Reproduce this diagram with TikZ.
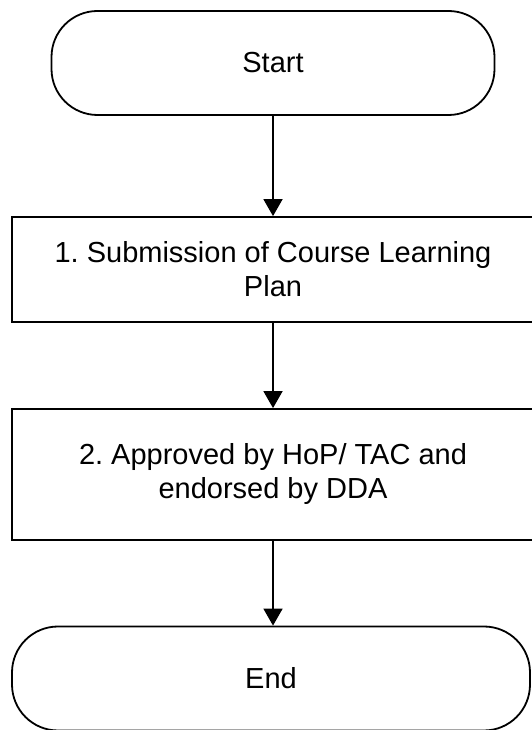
\documentclass[tikz,border=0pt]{standalone}
\usepackage{fontspec}
\setmainfont{Liberation Sans}
\usepackage{tikz}
\usetikzlibrary{arrows.meta}
\frenchspacing

\begin{document}
\begin{tikzpicture}[x=1pt, y=1pt,
    term/.style={rectangle, draw=black, line width=1.8pt, rounded corners=46pt,
      minimum height=104pt, align=center, font=\fontsize{29}{34}\selectfont},
    box/.style={rectangle, draw=black, line width=1.8pt, minimum width=522pt,
      align=center, font=\fontsize{29}{34}\selectfont},
    arrow/.style={-{Triangle[width=19pt, length=17pt]}, line width=1.8pt, black},
  ]
    \useasboundingbox (0,0) rectangle (531,730);
    \node[term, minimum width=443pt]      (start) at (273,667)   {Start};
    \node[box, minimum height=105pt]      (plan)  at (273,460.5) {1. Submission of Course Learning\\Plan};
    \node[box, minimum height=131pt]      (appr)  at (273,255.5) {2. Approved by HoP/ TAC and\\endorsed by DDA};
    \node[term, minimum width=518pt]      (fin)   at (271,51.5)  {End};
    \draw[arrow] (start) -- (plan);
    \draw[arrow] (plan)  -- (appr);
    \draw[arrow] (appr.south) -- (appr.south |- fin.north);
  \end{tikzpicture}
\end{document}
